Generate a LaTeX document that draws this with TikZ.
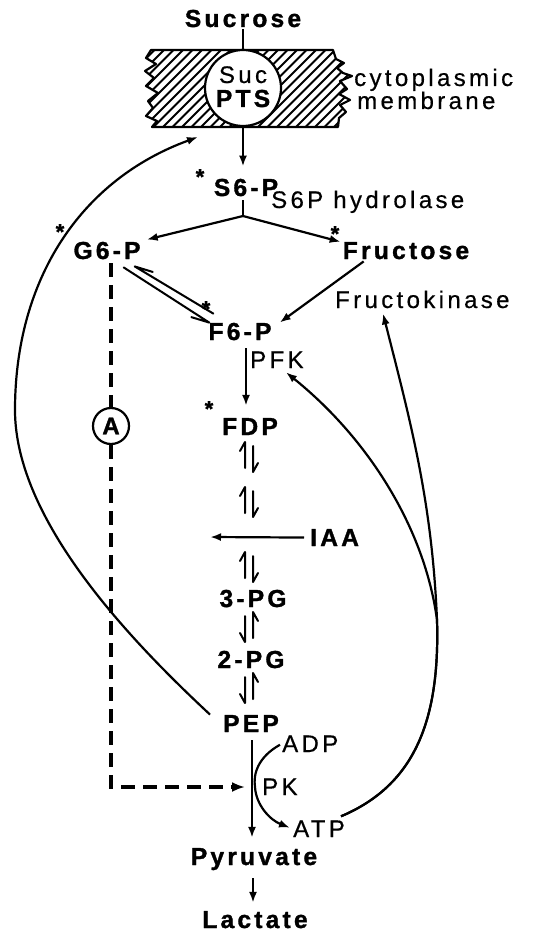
\documentclass[tikz,border=0pt]{standalone}
\usepackage{fontspec}
\setmainfont{Liberation Sans}[LetterSpace=14]
\newfontfamily\regf{Liberation Sans}[LetterSpace=14, FakeBold=0.5]
\newfontfamily\boldf{Liberation Sans}[LetterSpace=13, BoldFeatures={FakeBold=1.3}]
\usetikzlibrary{arrows.meta,calc}
\begin{document}
\begin{tikzpicture}[x=1pt,y=-1pt,
  lab/.style={inner sep=0pt, font=\fontsize{24}{28}\regf},
  blab/.style={inner sep=0pt, font=\fontsize{24.6}{28}\boldf\bfseries},
  astx/.style={inner sep=0pt, anchor=north, font=\fontsize{22}{24}\boldf\bfseries},
  ln/.style={line width=2.2pt},
  tip/.style={-{Latex[length=11pt,width=8pt]}},
  arr/.style={ln, tip},
  hp/.style={line width=2pt, line cap=round, line join=round},
  dsh/.style={line width=4pt, dash pattern=on 14pt off 8pt},
  pics/eqA/.style={code={
    \draw[hp] (-9,-6) -- (-4,-15) -- (-4,11);
    \draw[hp] (9,6) -- (4,15) -- (4,-11);}},
  pics/eqB/.style={code={
    \draw[hp] (-9,6) -- (-4,15) -- (-4,-11);
    \draw[hp] (9,-6) -- (4,-15) -- (4,11);}},
]
\useasboundingbox (0,0) rectangle (534,933);

% membrane with hatching
\begin{scope}
\clip (151,50) -- (333,50) -- (336,59) -- (344,63) -- (337,68) -- (343,73) -- (352,76) -- (340,81) -- (347,89) -- (339,94) -- (350,100) -- (340,105) -- (346,112) -- (339,118) -- (338,127) -- (152,127) -- (157,121) -- (146,116) -- (153,108) -- (148,101) -- (158,93) -- (146,86) -- (154,78) -- (145,71) -- (156,64) -- (146,58) -- cycle;
\foreach \i in {0,...,32} \draw[line width=2.1pt] ({60+9.5*\i},135) -- ++(95,-95);
\end{scope}
\draw[ln, line join=round] (151,50) -- (333,50) -- (336,59) -- (344,63) -- (337,68) -- (343,73) -- (352,76) -- (340,81) -- (347,89) -- (339,94) -- (350,100) -- (340,105) -- (346,112) -- (339,118) -- (338,127) -- (152,127) -- (157,121) -- (146,116) -- (153,108) -- (148,101) -- (158,93) -- (146,86) -- (154,78) -- (145,71) -- (156,64) -- (146,58) -- cycle;

\node[circle, draw, fill=white, ln, minimum size=76pt, inner sep=0pt] (pts) at (243,88) {};
\node[lab, anchor=base] (suclab) at (243,83) {Suc};
\node[blab, anchor=base] (ptslab) at (243,107) {PTS};
\node[lab, anchor=base west] (cyto) at (354,86) {cytoplasmic};
\node[lab, anchor=base west] (memb) at (357,109) {membrane};

% labels
\node[blab, anchor=base] (suc) at (243,27) {Sucrose};
\node[blab, anchor=base] (s6p) at (246,196) {S6-P};
\node[astx] (st1) at (200,169) {*};
\node[lab, anchor=base west] (hyd) at (271,208) {S6P hydrolase};
\node[blab, anchor=base] (g6p) at (107,259) {G6-P};
\node[astx] (st2) at (60,224) {*};
\node[blab, anchor=base] (fru) at (406,259) {Fructose};
\node[astx] (st3) at (335,226) {*};
\node[blab, anchor=base] (f6p) at (240,340) {F6-P};
\node[astx] (st4) at (206,301) {*};
\node[lab, anchor=base west] (fk) at (335,308) {Fructokinase};
\node[lab, anchor=base west] (pfk) at (250,368) {PFK};
\node[blab, anchor=base] (fdp) at (250,435) {FDP};
\node[astx] (st5) at (209,401) {*};
\node[blab, anchor=base west] (iaa) at (310,546) {IAA};
\node[blab, anchor=base] (pg3) at (253,607) {3-PG};
\node[blab, anchor=base] (pg2) at (251,668) {2-PG};
\node[blab, anchor=base] (pep) at (251,732) {PEP};
\node[lab, anchor=base west] (adp) at (282,752) {ADP};
\node[lab, anchor=base west] (pk) at (262,795) {PK};
\node[lab, anchor=base west] (atp) at (293,837) {ATP};
\node[blab, anchor=base] (pyr) at (254,865) {Pyruvate};
\node[blab, anchor=base] (lac) at (255,928) {Lactate};
\node[circle, draw, ln, minimum size=36pt, inner sep=0pt, font=\fontsize{24}{28}\boldf\bfseries] (A) at (111,426) {A};

\coordinate (jn) at (243,216);
\coordinate (pkx) at (252,787);
\coordinate (arcl) at (255,787);
\coordinate (dtip) at (245,787);
\coordinate (iaatip) at (210,537);
\coordinate (mtip) at (198,137);
\coordinate (mrg) at (437,620);

% connectors
\draw[ln] ($(suc.south)+(0,2)$) -- (pts.north);
\draw[arr] (pts.south) -- ($(pts.south |- s6p.north)+(0,-12)$);
\draw[ln] ($(s6p.south -| jn)+(0,4)$) -- (jn);
\draw[arr] (jn) -- ($(g6p.north east)+(6,-2)$);
\draw[arr] (jn) -- ($(fru.north west)+(-2,0)$);

% G6-P <=> F6-P
\coordinate (ga) at ($(g6p.south east)+(-6,7)$);
\coordinate (gb) at ($(g6p.south east)+(-17,8)$);
\coordinate (fa) at ($(f6p.north west)+(5,-9)$);
\coordinate (fb) at ($(f6p.north west)+(1,0)$);
\draw[hp] ($(ga)+(18,5.5)$) -- (ga) -- (fa);
\draw[hp] (gb) -- (fb) -- ($(fb)+(-18,-5.5)$);

\draw[arr] ($(fru.south west)+(21,2)$) -- ($(f6p.north east)+(8,0)$);
\draw[arr] ($(f6p.south)+(6,8)$) -- ($(fdp.north)+(-4,-12)$);

\pic at (249,457) {eqA};
\pic at (249,502) {eqA};
\pic at (249,567) {eqA};
\pic at (249,627) {eqB};
\pic at (249,688) {eqB};

\draw[arr] ($(iaa.west)+(-6,0)$) -- (iaatip);

\draw[arr] ($(pep.south -| pkx)+(0,8)$) -- ($(pyr.north -| pkx)+(0,-10)$);
\draw[ln, tip] ($(adp.west)+(-2,1)$) .. controls (258,757) and (253,774) .. (arcl) .. controls (256,805) and (270,820) .. ($(atp.west)+(-3,-1)$);
\draw[arr] ($(pyr.south -| pkx)+(1,8)$) -- ($(lac.north)+(-2,-8)$);

% dashed path through A
\draw[dsh] ($(g6p.south -| A)+(0,4)$) -- (A.north);
\draw[dsh, -{Latex[length=13pt,width=10pt]}] (A.south) |- (dtip);

% ATP feedback curves
\draw[ln, tip] ($(atp.north east)+(-4,-4)$) .. controls (415,785) and (440,720) .. (mrg) .. controls (432,500) and (410,420) .. ($(fk.south west)+(48,5)$);
\draw[ln, tip] ($(atp.north east)+(-4,-4)$) .. controls (415,785) and (440,720) .. (mrg) .. controls (425,530) and (370,440) .. ($(pfk.south)+(9,4)$);

% PEP to PTS curve
\draw[arr] ($(pep.west)+(-13,-9)$) .. controls (130,640) and (15,520) .. (15,410) .. controls (15,280) and (80,180) .. (mtip);
\end{tikzpicture}
\end{document}
